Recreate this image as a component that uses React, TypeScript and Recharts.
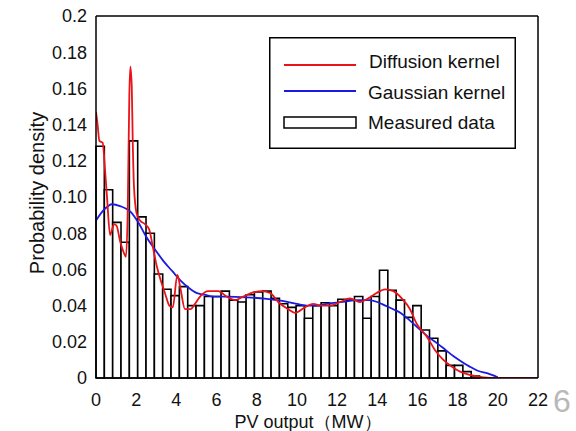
import React from "react";
import {
  ComposedChart,
  Line,
  XAxis,
  YAxis,
  ReferenceArea,
  Legend,
  Label,
} from "recharts";

// histogram: bin width and heights of the measured data
const BIN_WIDTH = 0.415;
const BAR_VALUES = [
  0.128, 0.104, 0.086, 0.075, 0.131, 0.089, 0.08, 0.0575, 0.049, 0.0455,
  0.0505, 0.04, 0.04, 0.045, 0.045, 0.048, 0.043, 0.042, 0.046, 0.0475,
  0.048, 0.044, 0.041, 0.039, 0.04, 0.033, 0.04, 0.0416, 0.04, 0.0435,
  0.043, 0.045, 0.033, 0.045, 0.0595, 0.0485, 0.043, 0.0335, 0.04, 0.0265,
  0.022, 0.015, 0.007, 0.007, 0.0035, 0.0011,
];

// diffusion kernel estimate (red)
const DIFF_X = [
  0, 0.07, 0.17, 0.33, 0.45, 0.56, 0.7, 0.9, 1.03, 1.19, 1.36, 1.49, 1.58,
  1.66, 1.71, 1.78, 1.83, 1.89, 2.02, 2.19, 2.44, 2.65, 2.82, 3.02, 3.22,
  3.43, 3.65, 3.82, 4.05, 4.21, 4.43, 4.7, 4.93, 5.18, 5.59, 6.09, 6.5, 6.92,
  7.33, 7.75, 8.25, 8.66, 9.07, 9.57, 9.9, 10.4, 10.82, 11.15, 11.65, 12.15,
  12.64, 13.14, 13.55, 13.97, 14.39, 14.8, 15.22, 15.63, 15.96, 16.46, 16.87,
  17.29, 17.7, 18.12, 18.6, 19.28, 20, 22,
];
const DIFF_Y = [
  0.147, 0.141, 0.131, 0.13, 0.115, 0.098, 0.079, 0.085, 0.084, 0.076, 0.07,
  0.067, 0.093, 0.157, 0.172, 0.161, 0.13, 0.106, 0.091, 0.087, 0.085, 0.082,
  0.073, 0.062, 0.054, 0.047, 0.04, 0.039, 0.057, 0.049, 0.038, 0.038, 0.041,
  0.045, 0.048, 0.048, 0.045, 0.043, 0.045, 0.047, 0.048, 0.047, 0.042, 0.038,
  0.036, 0.039, 0.041, 0.04, 0.04, 0.042, 0.044, 0.042, 0.044, 0.047, 0.049,
  0.048, 0.044, 0.038, 0.03, 0.023, 0.0155, 0.01, 0.0063, 0.0035, 0.0017,
  0.0004, 0, 0,
];

// gaussian kernel estimate (blue)
const GAUSS_X = [
  0, 0.4, 0.8, 1.2, 1.7, 2.1, 2.5, 3.0, 3.4, 3.8, 4.2, 4.6, 5.0, 5.4, 5.8,
  6.5, 7.5, 8.5, 9.2, 10.0, 10.5, 11.0, 11.5, 12.3, 13.0, 13.6, 14.0, 14.4,
  14.8, 15.2, 15.6, 16.0, 16.5, 17.0, 17.4, 17.8, 18.2, 18.6, 19.0, 19.5, 20.0,
];
const GAUSS_Y = [
  0.087, 0.093, 0.096, 0.095, 0.092, 0.086, 0.078, 0.07, 0.064, 0.059, 0.054,
  0.05, 0.047, 0.046, 0.045, 0.045, 0.0446, 0.0437, 0.0427, 0.041, 0.04, 0.04,
  0.041, 0.042, 0.043, 0.043, 0.042, 0.04, 0.038, 0.0357, 0.032, 0.028, 0.023,
  0.019, 0.0155, 0.012, 0.009, 0.0063, 0.004, 0.0025, 0.0004,
];

const X_TICKS = [0, 2, 4, 6, 8, 10, 12, 14, 16, 18, 20, 22];
const Y_TICKS = [0, 0.02, 0.04, 0.06, 0.08, 0.1, 0.12, 0.14, 0.16, 0.18, 0.2];
const Y_TICK_LABELS = ["0", "0.02", "0.04", "0.06", "0.08", "0.10", "0.12", "0.14", "0.16", "0.18", "0.2"];

const RED = "#e8141a";
const BLUE = "#1a1ae0";
const FONT = '"Liberation Sans", Arial, sans-serif';

const diffData = DIFF_X.map((x, i) => ({ x, y: DIFF_Y[i] }));
const gaussData = GAUSS_X.map((x, i) => ({ x, y: GAUSS_Y[i] }));

const tickStyle = { fontSize: 18, fill: "#111", fontFamily: FONT };

function LegendBox() {
  return (
    <svg width={247} height={112} style={{ display: "block" }}>
      <rect x={0.75} y={0.75} width={245.5} height={110.5} fill="#fff" stroke="#000" strokeWidth={1.5} />
      <line x1={15} x2={87} y1={28} y2={28} stroke={RED} strokeWidth={1.8} />
      <text x={100} y={24} dominantBaseline="central" fontSize={19} fontFamily={FONT} fill="#111">
        Diffusion kernel
      </text>
      <line x1={15} x2={87} y1={54} y2={54} stroke={BLUE} strokeWidth={1.8} />
      <text x={99} y={55} dominantBaseline="central" fontSize={19} fontFamily={FONT} fill="#111">
        Gaussian kernel
      </text>
      <rect x={15} y={80} width={72} height={11} fill="#fff" stroke="#000" strokeWidth={1.5} />
      <text x={99} y={85} dominantBaseline="central" fontSize={19} fontFamily={FONT} fill="#111">
        Measured data
      </text>
    </svg>
  );
}

const XTitle = (props: any) => {
  const vb = props.viewBox;
  return (
    <text x={vb.x + vb.width / 2 - 9} y={vb.y + 50} textAnchor="middle" fontSize={18} fontFamily={FONT} fill="#111">
      PV output（MW）
    </text>
  );
};

const YTitle = (props: any) => {
  const vb = props.viewBox;
  const cx = vb.x + 37;
  const cy = vb.y + vb.height / 2 - 4;
  return (
    <text
      x={cx}
      y={cy}
      transform={`rotate(-90 ${cx} ${cy})`}
      textAnchor="middle"
      dominantBaseline="central"
      fontSize={20}
      fontFamily={FONT}
      fill="#111"
    >
      Probability density
    </text>
  );
};

export default function App() {
  return (
    <div style={{ position: "absolute", left: 0, top: 0, width: 576, height: 431, background: "#fff", overflow: "hidden" }}>
      <ComposedChart width={576} height={431} margin={{ top: 16, right: 38, bottom: 0, left: 0 }}>
        <XAxis
          xAxisId="main"
          dataKey="x"
          type="number"
          domain={[0, 22]}
          allowDataOverflow
          ticks={X_TICKS}
          height={53}
          tickLine={false}
          tickSize={5}
          tickMargin={10}
          axisLine={{ stroke: "#000", strokeWidth: 1.5 }}
          tick={tickStyle}
        >
          <Label content={XTitle} />
        </XAxis>
        <XAxis
          xAxisId="bottomIn"
          type="number"
          orientation="bottom"
          mirror
          domain={[0, 22]}
          allowDataOverflow
          ticks={X_TICKS}
          tick={false}
          tickSize={5}
          axisLine={false}
          tickLine={{ stroke: "#000", strokeWidth: 1.5 }}
        />
        <XAxis
          xAxisId="top"
          type="number"
          orientation="top"
          mirror
          domain={[0, 22]}
          allowDataOverflow
          ticks={X_TICKS}
          tick={false}
          tickSize={5}
          axisLine={{ stroke: "#000", strokeWidth: 1.5 }}
          tickLine={{ stroke: "#000", strokeWidth: 1.5 }}
        />
        <YAxis
          yAxisId="main"
          type="number"
          domain={[0, 0.2]}
          allowDataOverflow
          ticks={Y_TICKS}
          width={96}
          tickLine={false}
          tickSize={5}
          tickMargin={4}
          axisLine={{ stroke: "#000", strokeWidth: 1.5 }}
          tick={tickStyle}
          tickFormatter={(v: number) => Y_TICK_LABELS[Y_TICKS.indexOf(v)] ?? String(v)}
        >
          <Label content={YTitle} />
        </YAxis>
        <YAxis
          yAxisId="leftIn"
          type="number"
          mirror
          domain={[0, 0.2]}
          allowDataOverflow
          ticks={Y_TICKS}
          tick={false}
          tickSize={5}
          axisLine={false}
          tickLine={{ stroke: "#000", strokeWidth: 1.5 }}
        />
        <YAxis
          yAxisId="right"
          type="number"
          orientation="right"
          mirror
          domain={[0, 0.2]}
          allowDataOverflow
          ticks={Y_TICKS}
          tick={false}
          tickSize={5}
          axisLine={{ stroke: "#000", strokeWidth: 1.5 }}
          tickLine={{ stroke: "#000", strokeWidth: 1.5 }}
        />

        {BAR_VALUES.map((v, i) => (
          <ReferenceArea
            key={i}
            xAxisId="main"
            yAxisId="main"
            x1={i * BIN_WIDTH}
            x2={(i + 1) * BIN_WIDTH}
            y1={0}
            y2={v}
            fill="#fff"
            fillOpacity={1}
            stroke="#000"
            strokeWidth={1.6}
            ifOverflow="visible"
          />
        ))}

        <Line
          xAxisId="main"
          yAxisId="main"
          data={gaussData}
          dataKey="y"
          type="monotone"
          stroke={BLUE}
          strokeWidth={1.8}
          dot={false}
          isAnimationActive={false}
        />
        <Line
          xAxisId="main"
          yAxisId="main"
          data={diffData}
          dataKey="y"
          type="monotone"
          stroke={RED}
          strokeWidth={1.8}
          dot={false}
          isAnimationActive={false}
        />

        <Legend
          layout="vertical"
          align="center"
          verticalAlign="middle"
          content={() => <LegendBox />}
          wrapperStyle={{ left: 269, top: 37, width: 247, height: 112 }}
        />
      </ComposedChart>
      <div
        style={{
          position: "absolute",
          left: 553,
          top: 385,
          fontSize: 32,
          fontFamily: FONT,
          color: "#b8b8b8",
          lineHeight: 1,
        }}
      >
        6
      </div>
    </div>
  );
}
